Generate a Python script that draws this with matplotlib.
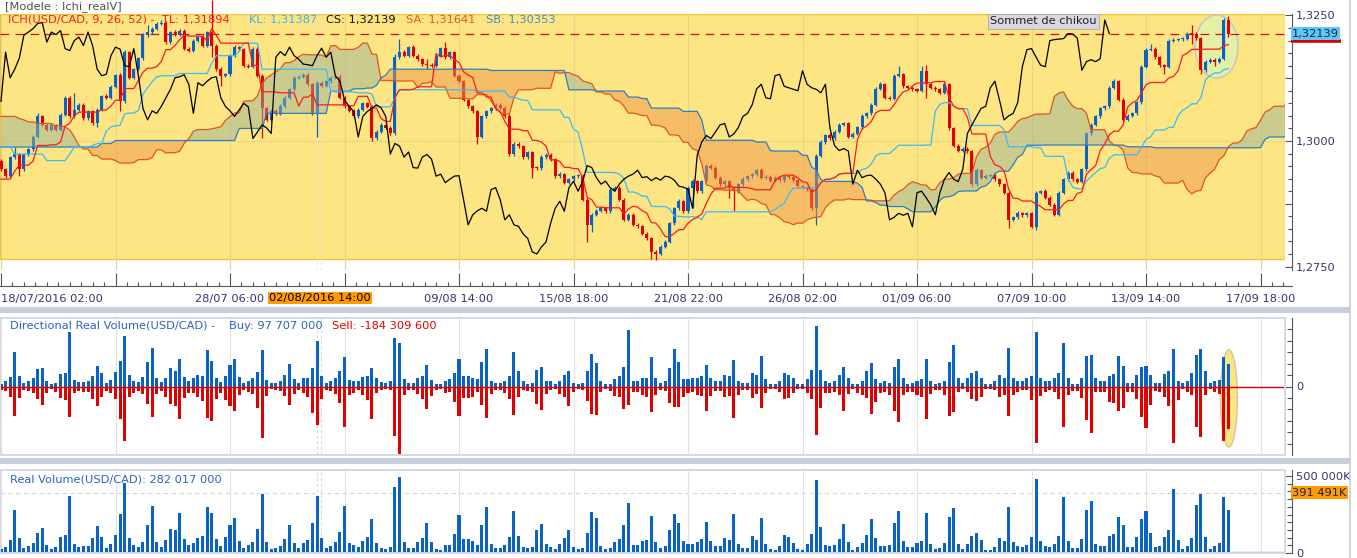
import numpy as np
import pandas as pd
import matplotlib
matplotlib.use("Agg")
import matplotlib.pyplot as plt
from matplotlib.patches import Ellipse, Rectangle
from matplotlib.transforms import blended_transform_factory
from matplotlib.ticker import MultipleLocator, FuncFormatter

FS = 8.2
plt.rcParams['font.family'] = ['DejaVu Sans']
plt.rcParams['font.size'] = FS

# ---- USD/CAD 4h candles, prices in pips above 1.3000 ----
first_open = -39
closes = [
    -56, -70, -32, -26, -56, -26, -16, 8, 49, 32,
    22, 32, 22, 52, 86, 49, 62, 72, 45, 59,
    35, 62, 90, 86, 108, 131, 79, 177, 126, 143,
    165, 211, 217, 224, 234, 236, 197, 217, 212, 220,
    184, 180, 200, 207, 190, 217, 190, 143, 130, 133,
    170, 187, 183, 150, 148, 184, 130, 65, 42, 60,
    55, 69, 86, 103, 126, 128, 132, 113, 55, 116,
    110, 119, 126, 128, 86, 69, 60, 49, 62, 75,
    68, 5, 18, 32, 26, 15, 167, 178, 170, 187,
    170, 163, 153, 152, 150, 170, 185, 167, 177, 130,
    119, 82, 69, 59, 8, 49, 59, 65, 72, 66,
    49, -26, -5, -10, -32, -22, -53, -54, -32, -27,
    -36, -70, -66, -83, -76, -70, -69, -117, -167, -147,
    -139, -134, -140, -97, -93, -117, -157, -147, -167, -170,
    -185, -194, -221, -225, -211, -201, -164, -134, -120, -140,
    -93, -80, -100, -80, -49, -53, -73, -86, -80, -93,
    -100, -86, -76, -70, -66, -58, -73, -71, -79, -73,
    -78, -70, -72, -78, -90, -92, -96, -134, -29, -2,
    11, 5, 18, 32, 35, 8, 14, 27, 49, 55,
    72, 104, 113, 86, 84, 130, 133, 109, 106, 103,
    100, 140, 113, 106, 103, 96, 113, 25, -9, -19,
    -15, -20, -86, -58, -73, -69, -68, -76, -86, -103,
    -157, -152, -144, -148, -144, -171, -103, -100, -113, -127,
    -147, -103, -76, -63, -76, -81, -56, 15, 32, 49,
    65, 69, 106, 119, 82, 42, 50, 55, 77, 148,
    182, 184, 167, 151, 148, 200, 202, 203, 204, 214,
    213, 205, 141, 158, 162, 158, 164, 241, 213.9,
]
# wick length above / below the body, pips
wick_hi = [
    4, 3, 3, 14, 3, 3, 2, 3, 6, 3,
    3, 4, 2, 3, 3, 3, 34, 3, 4, 3,
    3, 3, 2, 4, 3, 3, 4, 4, 3, 3,
    3, 4, 14, 3, 3, 5, 3, 3, 4, 3,
    3, 4, 3, 3, 4, 3, 64, 3, 4, 3,
    3, 4, 3, 3, 4, 3, 3, 4, 3, 3,
    3, 4, 3, 3, 4, 3, 3, 4, 3, 3,
    3, 3, 3, 4, 3, 3, 3, 4, 3, 3,
    3, 4, 3, 3, 3, 4, 6, 26, 3, 3,
    4, 3, 3, 10, 3, 3, 3, 12, 3, 3,
    3, 3, 2, 3, 3, 3, 2, 3, 4, 3,
    3, 4, 3, 3, 2, 3, 3, 3, 4, 3,
    3, 3, 4, 3, 3, 2, 3, 4, 3, 3,
    3, 2, 3, 4, 3, 3, 3, 3, 3, 4,
    3, 3, 3, 3, 3, 4, 3, 3, 4, 3,
    3, 4, 3, 3, 4, 3, 3, 3, 3, 3,
    3, 3, 4, 3, 3, 3, 4, 3, 3, 3,
    3, 3, 3, 4, 3, 3, 3, 3, 3, 3,
    3, 4, 3, 3, 3, 3, 3, 3, 4, 3,
    3, 3, 4, 3, 3, 3, 17, 3, 3, 4,
    3, 10, 11, 3, 3, 3, 4, 3, 3, 3,
    3, 3, 3, 4, 3, 3, 3, 3, 3, 3,
    3, 3, 4, 3, 3, 3, 3, 3, 4, 3,
    3, 3, 3, 4, 3, 3, 3, 3, 4, 3,
    3, 3, 3, 4, 3, 3, 3, 3, 3, 4,
    3, 10, 3, 3, 3, 4, 3, 3, 3, 3,
    18, 4, 3, 3, 3, 4, 3, 4, 9,
]
wick_lo = [
    3, 3, 3, 3, 14, 3, 3, 3, 3, 3,
    3, 3, 3, 3, 3, 3, 3, 3, 3, 3,
    3, 7, 3, 3, 3, 3, 20, 3, 3, 3,
    3, 3, 3, 3, 3, 3, 3, 3, 3, 3,
    3, 3, 3, 3, 3, 3, 23, 3, 21, 3,
    3, 3, 3, 3, 3, 3, 3, 60, 3, 3,
    3, 3, 3, 3, 3, 3, 3, 3, 4, 47,
    3, 3, 3, 3, 3, 3, 3, 3, 3, 3,
    3, 5, 3, 3, 3, 3, 3, 3, 3, 3,
    3, 3, 3, 8, 3, 3, 3, 3, 3, 3,
    3, 3, 3, 3, 13, 3, 3, 3, 3, 3,
    3, 3, 3, 3, 3, 3, 20, 3, 3, 3,
    3, 3, 3, 3, 3, 3, 3, 3, 34, 14,
    3, 3, 3, 3, 3, 3, 3, 3, 3, 3,
    3, 3, 14, 12, 3, 3, 3, 3, 3, 3,
    3, 40, 3, 3, 3, 3, 3, 3, 3, 20,
    40, 3, 3, 3, 3, 3, 3, 3, 3, 3,
    3, 3, 3, 3, 3, 3, 3, 3, 33, 3,
    3, 3, 3, 3, 3, 3, 3, 3, 3, 3,
    3, 3, 3, 3, 3, 3, 3, 3, 3, 3,
    3, 3, 27, 3, 3, 3, 3, 3, 3, 3,
    3, 3, 3, 3, 3, 3, 3, 3, 3, 3,
    17, 3, 3, 3, 3, 3, 7, 3, 3, 3,
    3, 3, 3, 3, 3, 3, 3, 3, 3, 3,
    3, 3, 3, 3, 3, 3, 3, 3, 3, 3,
    3, 3, 3, 3, 15, 3, 3, 3, 3, 3,
    19, 3, 7, 3, 3, 8, 3, 3, 7,
]

# Ichimoku values at the left edge (they depend on bars before the chart), pips
tenkan_head = [-76, -76, -76, -60, -48, -48, -48, -40]
kijun_head = [-12, -12, -12, -26, -26, -26, -26, -26, -26, -26,
              -39, -39, -39, -39, -39, -26, -12, -12, -12, -12,
              -9, -5, -5, 20, 28]
ssa_head = [49, 49, 49, 49, 45, 42, 38, 38, 35, 35,
            35, 35, 30, 30, 28, 22, 8, -9, -16, -16,
            -29, -29, -36, -36, -36, -39]
ssb_head = [-12, -12, -12, -12, -12, -12, -12, -12, -12, -12,
            -12, -12, -12, -12, -12, -12, -12, -12, -12, -12,
            -12, -12, -5, -5, -5, 1, 1, 1, 1, 1,
            1, 1, 1, 1, 1, 1, 1, 1, 1, 1,
            1, 1, 1, 1, 1, 1, 1, 1, 1, 1,
            1, 1, 25, 25, 25, 25, 25, 25, 55, 55,
            55, 55, 55, 55, 55, 55, 55, 55, 55, 55,
            55, 55, 99, 99, 99, 99, 99]

# ---- real volume, millions ----
vol_total = [
    26, 41, 84, 279, 97, 32, 45, 65, 130, 162,
    52, 26, 39, 104, 117, 370, 58, 39, 45, 45,
    97, 175, 104, 32, 58, 117, 253, 457, 97, 52,
    39, 71, 182, 305, 71, 39, 84, 156, 149, 260,
    91, 52, 65, 97, 110, 299, 260, 91, 45, 104,
    182, 227, 78, 32, 52, 71, 156, 383, 71, 26,
    32, 45, 91, 182, 65, 32, 65, 84, 195, 370,
    97, 32, 45, 71, 136, 305, 65, 52, 39, 78,
    104, 221, 65, 32, 26, 39, 426, 491, 71, 32,
    32, 71, 97, 195, 71, 26, 22, 54, 54, 123,
    249, 93, 93, 80, 54, 184, 299, 58, 32, 32,
    54, 104, 275, 110, 39, 32, 39, 149, 188, 58,
    39, 26, 58, 97, 149, 39, 26, 32, 130, 266,
    227, 45, 26, 32, 71, 91, 182, 325, 52, 52,
    78, 84, 240, 71, 32, 45, 149, 253, 195, 78,
    58, 58, 71, 91, 201, 78, 45, 45, 97, 84,
    253, 58, 32, 32, 110, 84, 227, 58, 26, 19,
    45, 117, 104, 65, 26, 19, 58, 123, 474, 169,
    52, 45, 52, 91, 188, 71, 19, 39, 65, 117,
    221, 97, 45, 45, 52, 195, 273, 78, 39, 39,
    65, 78, 260, 58, 26, 32, 65, 234, 292, 58,
    26, 58, 110, 130, 84, 19, 19, 39, 97, 78,
    299, 71, 45, 39, 52, 104, 481, 78, 45, 39,
    58, 110, 364, 78, 32, 32, 91, 279, 338, 58,
    48, 48, 110, 125, 236, 182, 39, 39, 106, 218,
    272, 131, 36, 43, 103, 151, 413, 87, 25, 44,
    97, 313, 386, 104, 25, 48, 62, 363, 282.017,
]
vol_buy = [
    12, 22, 40, 150, 45, 15, 24, 35, 75, 80,
    22, 13, 17, 55, 60, 236, 28, 20, 20, 22,
    44, 90, 58, 14, 30, 62, 110, 221, 52, 24,
    20, 40, 105, 170, 38, 18, 36, 80, 66, 120,
    40, 24, 36, 50, 48, 160, 110, 36, 18, 46,
    95, 120, 40, 15, 26, 38, 62, 160, 30, 14,
    17, 25, 50, 100, 34, 16, 36, 36, 80, 200,
    44, 16, 24, 37, 66, 130, 30, 22, 22, 42,
    46, 80, 35, 18, 14, 22, 210, 190, 34, 15,
    17, 38, 44, 95, 30, 12, 12, 26, 31, 57,
    122, 44, 44, 35, 31, 105, 162, 26, 17, 17,
    26, 48, 149, 66, 22, 13, 17, 74, 87, 26,
    22, 13, 26, 52, 66, 17, 13, 17, 66, 144,
    101, 22, 13, 13, 31, 44, 83, 245, 26, 26,
    39, 39, 127, 35, 17, 26, 79, 162, 105, 31,
    31, 35, 35, 48, 92, 35, 26, 26, 52, 44,
    114, 22, 17, 17, 61, 52, 131, 31, 13, 10,
    22, 61, 52, 35, 13, 9, 31, 70, 262, 74,
    22, 17, 26, 52, 83, 39, 9, 9, 26, 66,
    101, 31, 17, 22, 17, 87, 118, 39, 13, 17,
    26, 31, 118, 26, 9, 17, 26, 105, 179, 35,
    17, 35, 57, 66, 39, 9, 9, 22, 52, 39,
    170, 35, 22, 22, 35, 44, 236, 35, 22, 22,
    35, 57, 188, 39, 13, 13, 39, 131, 136, 35,
    22, 22, 44, 55, 131, 90, 17, 17, 51, 83,
    90, 51, 17, 17, 55, 68, 165, 26, 15, 22,
    61, 138, 165, 66, 15, 22, 29, 127, 97.707,
]
avg_volume = 391.491

tick_bars = [0, 25, 50, 75, 100, 125, 150, 175, 200, 225, 250, 275]
tick_labels = ['18/07/2016 02:00', '', '28/07 06:00', '', '09/08 14:00', '15/08 18:00',
               '21/08 22:00', '26/08 02:00', '01/09 06:00', '07/09 10:00',
               '13/09 14:00', '17/09 18:00']
cursor_bar = 69.5
cursor_label = '02/08/2016 14:00'

# ---- colours ----
YELLOW = '#fde583'
BLUE = '#0a62c4'
RED = '#e00000'
AXTXT = '#34346a'

# ---- geometry ----
W, H = 1357, 558
STEP = 4.58   # px per bar
X0 = 1.0      # px of first bar
PPU = 5020.0  # px per price unit


def box(left, top, right, bottom):
    return [left / W, 1 - bottom / H, (right - left) / W, (bottom - top) / H]


def xlim_px(right):
    return ((0 - X0) / STEP, (right - X0) / STEP)


def comma(v, nd=4):
    return f"{v:.{nd}f}".replace('.', ',')


# ---- Ichimoku ----
c = 1.3 + np.array(closes) / 1e4
o = np.r_[1.3 + first_open / 1e4, c[:-1]]
hi = np.maximum(o, c) + np.array(wick_hi) / 1e4
lo = np.minimum(o, c) - np.array(wick_lo) / 1e4
n = len(c)
hs, ls = pd.Series(hi), pd.Series(lo)


def mid(p):
    return ((hs.rolling(p, min_periods=1).max() + ls.rolling(p, min_periods=1).min()) / 2).values


tenkan = mid(9)
tenkan[:len(tenkan_head)] = 1.3 + np.array(tenkan_head) / 1e4
kijun = mid(26)
kijun[:len(kijun_head)] = 1.3 + np.array(kijun_head) / 1e4
ssa = np.r_[1.3 + np.array(ssa_head) / 1e4, (tenkan + kijun) / 2]
ssb = np.r_[np.full(26, np.nan), mid(52)]
ssb[:len(ssb_head)] = 1.3 + np.array(ssb_head) / 1e4
xc = np.arange(len(ssa))
x = np.arange(n)

fig = plt.figure(figsize=(W / 100, H / 100), dpi=100)
fig.patch.set_facecolor('white')

# ================= price panel =================
ax = fig.add_axes(box(0, 14, 1285, 270))
ax.set_facecolor('white')
ax.set_xlim(*xlim_px(1285))
ax.set_ylim(1.3 - (270 - 141) / PPU, 1.3 + (141 - 14) / PPU)
ax.add_patch(Rectangle((0, 11 / 256), 1, 245 / 256, transform=ax.transAxes,
                       fc=YELLOW, ec='#f2c230', lw=1, zorder=0))
for b in tick_bars:
    ax.axvline(b, color='#e8d38c', lw=0.8, zorder=0.5)
ax.axhline(1.3, color='#e8d38c', lw=0.8, zorder=0.5)
for cb in (cursor_bar - 0.45, cursor_bar + 0.45):
    ax.axvline(cb, color='#eae4cc', lw=0.8, ls=(0, (3, 2)), zorder=0.6)

ax.add_patch(Ellipse((265.4, 1.31882), 9.4, 0.01255, fc='#e4f0a6', ec='#c4c4c0',
                     lw=1, zorder=1.5))
ax.axhline(c[-1], color='#d01010', lw=0.9, ls=(0, (7, 5)), zorder=1.8)

col = np.where(c >= o, BLUE, RED)
ax.vlines(x, lo, hi, colors=col, lw=0.9, zorder=2, clip_on=False)
ax.bar(x, np.maximum(np.abs(c - o), 0.00015), bottom=np.minimum(o, c), width=0.66,
       color=col, lw=0, zorder=2.1)

ax.fill_between(xc, ssa, ssb, where=ssa >= ssb, interpolate=True, color='#9bb399',
                alpha=0.5, lw=0, zorder=3)
ax.fill_between(xc, ssa, ssb, where=ssa < ssb, interpolate=True, color='#ef9749',
                alpha=0.5, lw=0, zorder=3)
ax.plot(xc, ssa, color='#e0561c', lw=0.9, zorder=3.5)
ax.plot(xc, ssb, color='#2a7fc4', lw=0.9, zorder=3.5)
ax.plot(x, kijun, color='#38bdf8', lw=0.9, zorder=4)
ax.plot(x, tenkan, color='#ff1a1a', lw=0.9, zorder=4)
ax.plot(x[:n - 26], c[26:], color='black', lw=0.9, zorder=4.5)

for s in ('top', 'left', 'bottom'):
    ax.spines[s].set_visible(False)
ax.spines['right'].set_position(('outward', 5))
ax.spines['right'].set_color('#555555')
ax.set_xticks([])
ax.yaxis.tick_right()
ax.yaxis.set_major_locator(MultipleLocator(0.0125))
ax.yaxis.set_minor_locator(MultipleLocator(0.0025))
ax.yaxis.set_major_formatter(FuncFormatter(
    lambda v, p: comma(v) if abs(round(v / 0.025) * 0.025 - v) < 1e-7 else ''))
ax.tick_params(axis='y', which='major', direction='in', length=5, width=0.8,
               color='#555555', labelcolor=AXTXT, labelsize=FS, pad=3)
ax.tick_params(axis='y', which='minor', direction='in', length=2.8, width=0.8,
               color='#555555')
bt = blended_transform_factory(ax.transAxes, ax.transData)
ax.text(1 + 7 / 1285, c[-1], comma(c[-1], 5), transform=bt, va='center', ha='left',
        color='#202040', fontsize=FS, zorder=6,
        bbox=dict(boxstyle='square,pad=0.12', fc='#5cc8f6', ec='none'))
ax.plot([1 + 6 / 1285, 1 + 56 / 1285], [c[-1] - 0.00150] * 2, transform=bt,
        color='#e00000', lw=2.6, clip_on=False, solid_capstyle='butt')

# ================= time axis =================
axt = fig.add_axes(box(0, 262, 1292, 286))
axt.set_facecolor('none')
axt.set_xlim(*xlim_px(1292))
axt.set_yticks([])
for s in ('top', 'left', 'right'):
    axt.spines[s].set_visible(False)
axt.spines['bottom'].set_color('#555555')
axt.set_xticks(tick_bars, tick_labels)
axt.xaxis.set_minor_locator(MultipleLocator(2.5))
axt.tick_params(axis='x', which='major', direction='in', length=9.5, width=0.8,
                color='#555555', labelcolor=AXTXT, labelsize=FS, pad=5.5)
axt.tick_params(axis='x', which='minor', direction='in', length=3, width=0.8,
                color='#555555')
axt.get_xticklabels()[0].set_ha('left')
fig.text(320 / W, 1 - 298 / H, cursor_label, ha='center', va='center', color='black',
         fontsize=FS, bbox=dict(boxstyle='square,pad=0.12', fc='#ff9a00', ec='none'))

# ================= directional volume =================
buy = np.array(vol_buy)
tot = np.array(vol_total)
sell = tot - buy
axm = fig.add_axes(box(0, 318, 1285, 455))
axm.set_xlim(*xlim_px(1285))
axm.set_ylim(-299, 299)
for b in tick_bars:
    axm.axvline(b, color='#e2e2e2', lw=0.8, zorder=0.5)
for cb in (cursor_bar - 0.45, cursor_bar + 0.45):
    axm.axvline(cb, color='#dcdcdc', lw=0.8, ls=(0, (3, 2)), zorder=0.6)
axm.add_patch(Ellipse((268.1, -52), 3.7, 424, fc=YELLOW, ec='#cfc8a0', lw=1, zorder=0.8))
axm.bar(x, buy, width=0.66, color=BLUE, lw=0, zorder=2)
axm.bar(x, -sell, width=0.66, color=RED, lw=0, zorder=2)
axm.axhline(0, color=RED, lw=1, zorder=2.5)

# ================= real volume =================
axv = fig.add_axes(box(0, 470, 1285, 553))
axv.set_xlim(*xlim_px(1285))
axv.set_ylim(0, 539)
for b in tick_bars:
    axv.axvline(b, color='#e2e2e2', lw=0.8, zorder=0.5)
for cb in (cursor_bar - 0.45, cursor_bar + 0.45):
    axv.axvline(cb, color='#dcdcdc', lw=0.8, ls=(0, (3, 2)), zorder=0.6)
axv.axhline(avg_volume, color='#d6d6d6', lw=0.8, ls=(0, (4, 3)), zorder=0.7)
axv.bar(x, tot, width=0.66, color=BLUE, lw=0, zorder=2)
axv.axhline(0, color=BLUE, lw=1.6, zorder=2.5)
bv = blended_transform_factory(axv.transAxes, axv.transData)
axv.text(1 + 7 / 1285, avg_volume, '391 491K', transform=bv, va='center', ha='left',
         color='#202020', fontsize=FS,
         bbox=dict(boxstyle='square,pad=0.12', fc='#ff9a00', ec='none'))

for a, major, labels in ((axm, [0], {0: '0'}), (axv, [0, 500], {0: '0', 500: '500 000K'})):
    for s in ('top', 'left', 'bottom'):
        a.spines[s].set_visible(False)
    a.add_patch(Rectangle((0, 0), 1, 1, transform=a.transAxes, fill=False,
                          ec='#d3d9e1', lw=1.4, zorder=5, clip_on=False))
    a.spines['right'].set_position(('outward', 5))
    a.spines['right'].set_color('#555555')
    a.set_xticks([])
    a.yaxis.tick_right()
    a.set_yticks(major, [labels[v] for v in major])
    a.yaxis.set_minor_locator(MultipleLocator(50))
    a.tick_params(axis='y', which='major', direction='in', length=5, width=0.8,
                  color='#555555', labelcolor=AXTXT, labelsize=FS, pad=3)
    a.tick_params(axis='y', which='minor', direction='in', length=3.5, width=0.8,
                  color='#555555')

# ================= frame decorations & texts =================
for top in (307, 458):
    fig.add_artist(Rectangle((0, 1 - (top + 6) / H), 1350 / W, 6 / H,
                             transform=fig.transFigure, fc='#c6d0dc', ec='none'))
fig.add_artist(plt.Line2D([1350 / W, 1350 / W], [0, 1], transform=fig.transFigure,
                          color='#c8ccd4', lw=1.2))

fig.text(5 / W, 1 - 7 / H, '[Modele : Ichi_realV]', color='#505050', va='center',
         fontsize=FS)
for px, s, colr in ((8, 'ICH(USD/CAD, 9, 26, 52) -  TL: 1,31894', '#ff1a1a'),
                    (249, 'KL: 1,31387', '#38b6ee'),
                    (326, 'CS: 1,32139', '#101010'),
                    (406, 'SA: 1,31641', '#e6561e'),
                    (486, 'SB: 1,30353', '#3a8fd6')):
    fig.text(px / W, 1 - 20 / H, s, color=colr, va='center', fontsize=FS, zorder=10)
fig.text(990 / W, 1 - 21.5 / H, 'Sommet de chikou', color='#202020', va='center',
         fontsize=FS, zorder=10,
         bbox=dict(boxstyle='square,pad=0.2', fc='#d8d8e0', ec='#a8a8b0', lw=0.6))

for px, s, colr in ((10, 'Directional Real Volume(USD/CAD) -', '#2a62c0'),
                    (229, 'Buy: 97 707 000', '#2a62c0'),
                    (332, 'Sell: -184 309 600', '#e00000')):
    fig.text(px / W, 1 - 326 / H, s, color=colr, va='center', fontsize=FS, zorder=10)
fig.text(10 / W, 1 - 480 / H, 'Real Volume(USD/CAD): 282 017 000', color='#2a62c0',
         va='center', fontsize=FS, zorder=10)

fig.savefig('out.png', dpi=100)
